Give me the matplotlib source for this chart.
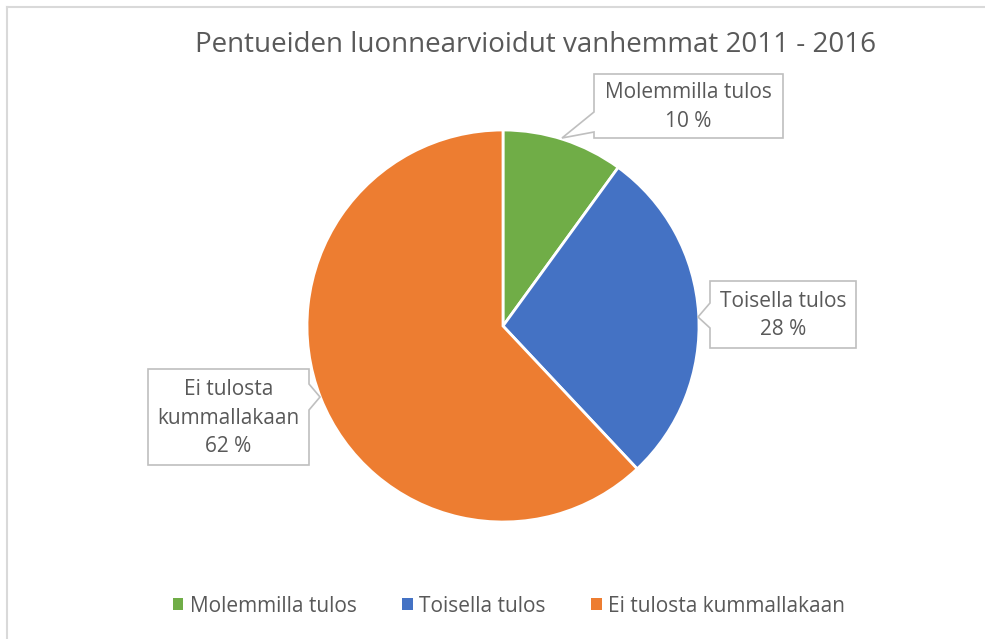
import matplotlib
matplotlib.use('Agg')
import matplotlib.pyplot as plt
from matplotlib.patches import Polygon, Patch

plt.rcParams['font.family'] = ['Open Sans', 'DejaVu Sans']

title = "Pentueiden luonnearvioidut vanhemmat 2011 - 2016"
categories = ["Molemmilla tulos", "Toisella tulos", "Ei tulosta kummallakaan"]
box_labels = ["Molemmilla tulos", "Toisella tulos", "Ei tulosta\nkummallakaan"]
shares = [10, 28, 62]
colors = ["#70AD47", "#4472C4", "#ED7D31"]
text_col = "#595959"

W, H = 985, 639
fig = plt.figure(figsize=(W / 100, H / 100), dpi=100)
ax = fig.add_axes([0, 0, 1, 1])

def py(y):
    # pixel row (from top) to data y
    return H - y

ax.pie(shares, colors=colors, startangle=90, counterclock=False,
       center=(503, py(326)), radius=196, frame=True,
       wedgeprops=dict(edgecolor='white', linewidth=2))
ax.set_xlim(0, W)
ax.set_ylim(0, H)
ax.set_aspect('equal')
ax.axis('off')

# chart area border (only top and left show in the crop)
ax.plot([7, W], [py(7), py(7)], color="#D9D9D9", lw=1.5)
ax.plot([7, 7], [py(7), 0], color="#D9D9D9", lw=1.5)

ax.text(536, py(45), title, ha='center', va='center', fontsize=20, color=text_col)

# callout boxes: (left, top, right, bottom), pointer side, pointer base y0/y1, tip
boxes = [
    ((594, 74, 783, 138), 'left', (112, 132), (562, 138)),
    ((710, 281, 856, 348), 'left', (303, 328), (698, 317)),
    ((148, 369, 309, 465), 'right', (384, 410), (320, 397)),
]
for ((l, t, r, b), side, (b0, b1), (tx, ty)), lab, s in zip(boxes, box_labels, shares):
    if side == 'left':
        pts = [(l, t), (r, t), (r, b), (l, b), (l, b1), (tx, ty), (l, b0)]
    else:
        pts = [(l, t), (r, t), (r, b0), (tx, ty), (r, b1), (r, b), (l, b)]
    pts = [(x, py(y)) for x, y in pts]
    ax.add_patch(Polygon(pts, closed=True, facecolor='white',
                         edgecolor='#BFBFBF', lw=1.2, zorder=5))
    ax.text((l + r) / 2, py((t + b) / 2 + 1), "%s\n%d %%" % (lab, s), ha='center',
            va='center', fontsize=15, color=text_col, linespacing=1.45, zorder=6)

handles = [Patch(facecolor=c, edgecolor='none') for c in colors]
leg = fig.legend(handles, categories, loc='center', bbox_to_anchor=(509 / W, 1 - 606 / H),
                 ncol=3, frameon=False, fontsize=15, handlelength=0.5, handleheight=0.5,
                 handletextpad=0.3, columnspacing=2.2)
for t in leg.get_texts():
    t.set_color(text_col)

fig.savefig("out.png", dpi=100)
